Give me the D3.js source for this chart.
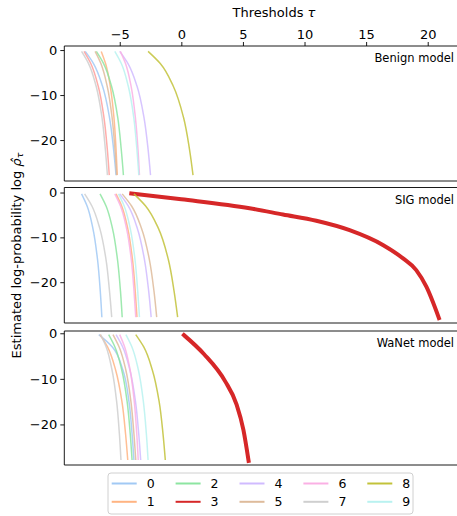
<!DOCTYPE html>
<html>
<head>
<meta charset="utf-8">
<script src="https://cdn.jsdelivr.net/npm/d3@7"></script>
<style>
  html, body { margin: 0; padding: 0; background: #fff; }
  svg { display: block; font-family: "DejaVu Sans", sans-serif; }
</style>
</head>
<body>
<svg id="chart" width="457" height="516"></svg>
<script>
// ---------------- data ----------------
const classes = ["0", "1", "2", "3", "4", "5", "6", "7", "8", "9"];
const classColors = ["#a1c9f4", "#ffb482", "#8de5a1", "#ff9f9b", "#d0bbff",
                     "#debb9b", "#fab0e4", "#cfcfcf", "#c2c23a", "#b9f2f0"];
const targetColor = "#d62728";
const targetClass = 3;
const panelNames = ["Benign model", "SIG model", "WaNet model"];

// log-probability levels at which each class curve's threshold was read
const levels = [-0.3, -3, -8, -15, -22, -27.8];

// thresholds tau per class at the levels above
const benignTau = [
  [-7.8, -7.13, -6.4, -5.83, -5.5, -5.3],
  [-6.5, -6.15, -5.77, -5.47, -5.3, -5.2],
  [-6.9, -6.31, -5.67, -5.16, -4.88, -4.7],
  [-7.9, -7.35, -6.75, -6.28, -6.01, -5.85],
  [-5.0, -4.33, -3.6, -3.03, -2.7, -2.5],
  [-7.0, -6.53, -6.02, -5.62, -5.39, -5.25],
  [-4.95, -4.53, -4.08, -3.73, -3.52, -3.4],
  [-8.1, -7.53, -6.92, -6.44, -6.17, -6.0],
  [-2.7, -1.71, -0.66, 0.18, 0.66, 0.95],
  [-5.4, -4.87, -4.31, -3.86, -3.61, -3.45]
];
const sigTau = [
  [-8.1, -7.65, -7.18, -6.8, -6.58, -6.45],
  [-5.3, -4.84, -4.35, -3.96, -3.74, -3.6],
  [-6.6, -6.11, -5.59, -5.18, -4.94, -4.8],
  null,
  [-5.0, -4.31, -3.57, -2.99, -2.65, -2.45],
  [-4.8, -4.04, -3.23, -2.59, -2.22, -2.0],
  [-5.4, -4.94, -4.45, -4.06, -3.84, -3.7],
  [-7.85, -7.26, -6.62, -6.11, -5.83, -5.65],
  [-3.85, -2.9, -1.86, -1.05, -0.59, -0.3],
  [-5.1, -4.64, -4.15, -3.76, -3.54, -3.4]
];
const wanetTau = [
  [-6.7, -5.6, -4.75, -4.25, -4.0, -3.85],
  [-6.6, -5.99, -5.34, -4.82, -4.53, -4.35],
  [-5.9, -5.39, -4.84, -4.4, -4.15, -4.0],
  null,
  [-5.3, -4.76, -4.18, -3.72, -3.46, -3.3],
  [-5.55, -5.05, -4.51, -4.09, -3.85, -3.7],
  [-5.0, -4.6, -4.16, -3.82, -3.62, -3.5],
  [-6.55, -6.1, -5.63, -5.25, -5.03, -4.9],
  [-3.7, -3.05, -2.36, -1.8, -1.49, -1.3],
  [-4.5, -4.01, -3.49, -3.08, -2.84, -2.7]
];

// target class (3) curves for the backdoored models
const sigRedTau  = [-4.06, 0, 5.54, 8.25, 10.96, 13.66, 16.36, 18.0, 19.07, 19.89, 20.91];
const sigRedLogp = [-0.2, -1.5, -3.5, -4.9, -6.3, -8.4, -11.7, -14.7, -17.3, -21.0, -28.0];
const wanetRedTau  = [0.21, 1.85, 3.55, 4.48, 5.04, 5.46];
const wanetRedLogp = [-0.4, -4.6, -10.5, -15.6, -21.2, -28.0];

const xTicks = [-5, 0, 5, 10, 15, 20];
const yTicks = [0, -10, -20];
const yDomains = [[-29.1, 0.9], [-29.1, 1.12], [-28.9, 0.5]];

// ---------------- layout ----------------
const svg = d3.select("#chart");
const left = 64.3, right = 484;
const panelBox = [[46, 181], [187.5, 323], [331, 465]];
const x = d3.scaleLinear().domain([-9.5, 24.57]).range([left, right]);
const FONT = 13;

const panels = [
  { tau: benignTau, red: null },
  { tau: sigTau, red: { t: sigRedTau, v: sigRedLogp } },
  { tau: wanetTau, red: { t: wanetRedTau, v: wanetRedLogp } }
];

svg.append("defs").append("clipPath").attr("id", "clipAll")
  .append("rect").attr("x", left).attr("y", 0).attr("width", right - left).attr("height", 516);

panels.forEach((p, pi) => {
  const [top, bot] = panelBox[pi];
  const y = d3.scaleLinear().domain(yDomains[pi]).range([bot, top]);
  const g = svg.append("g");
  const plot = g.append("g").attr("clip-path", "url(#clipAll)");

  const line = d3.line().x(d => x(d[0])).y(d => y(d[1])).curve(d3.curveMonotoneY);
  const lineX = d3.line().x(d => x(d[0])).y(d => y(d[1])).curve(d3.curveMonotoneX);

  classes.forEach((c, ci) => {
    if (ci === targetClass && p.red) {
      const pts = p.red.t.map((t, k) => [t, p.red.v[k]]);
      plot.append("path").attr("d", lineX(pts))
        .attr("fill", "none").attr("stroke", targetColor)
        .attr("stroke-width", 4).attr("stroke-linecap", "square");
      return;
    }
    const arr = p.tau[ci];
    if (!arr) return;
    const pts = arr.map((t, k) => [t, levels[k]]);
    plot.append("path").attr("d", line(pts))
      .attr("fill", "none").attr("stroke", classColors[ci])
      .attr("stroke-opacity", ci === 8 ? 0.85 : 0.85)
      .attr("stroke-width", 1.5);
  });

  // y axis
  const ya = g.append("g").attr("transform", `translate(${left},0)`)
    .call(d3.axisLeft(y).tickValues(yTicks).tickSize(4).tickPadding(3)
      .tickFormat(d => d < 0 ? "\u2212" + Math.abs(d) : String(d)));
  ya.select(".domain").remove();
  ya.selectAll("line").attr("stroke", "#000").attr("stroke-width", 0.9);
  ya.selectAll("text").attr("font-size", FONT).attr("fill", "#000")
    .attr("font-family", "DejaVu Sans");

  // spines
  g.append("line").attr("x1", left).attr("x2", right).attr("y1", top).attr("y2", top)
    .attr("stroke", "#000").attr("stroke-width", 0.9);
  g.append("line").attr("x1", left).attr("x2", right).attr("y1", bot).attr("y2", bot)
    .attr("stroke", "#000").attr("stroke-width", 0.9);
  g.append("line").attr("x1", left).attr("x2", left).attr("y1", top).attr("y2", bot)
    .attr("stroke", "#000").attr("stroke-width", 0.9);

  // panel title
  g.append("text").attr("x", 454).attr("y", top + 12)
    .attr("text-anchor", "end").attr("dominant-baseline", "central")
    .attr("font-size", 11.5).attr("fill", "#000").text(panelNames[pi]);

  if (pi === 0) {
    const xa = g.append("g").attr("transform", `translate(0,${top})`)
      .call(d3.axisTop(x).tickValues(xTicks).tickSize(4).tickPadding(3)
        .tickFormat(d => d < 0 ? "\u2212" + Math.abs(d) : String(d)));
    xa.select(".domain").remove();
    xa.selectAll("line").attr("stroke", "#000").attr("stroke-width", 0.9);
    xa.selectAll("text").attr("font-size", FONT).attr("fill", "#000")
      .attr("font-family", "DejaVu Sans");
    const lab = svg.append("text").attr("x", 274).attr("y", 12)
      .attr("text-anchor", "middle").attr("dominant-baseline", "central")
      .attr("font-size", FONT).attr("fill", "#000");
    lab.append("tspan").text("Thresholds ");
    lab.append("tspan").attr("font-style", "italic").text("\u03c4");
  }
});

// y label
const yl = svg.append("text")
  .attr("transform", "translate(16,255.5) rotate(-90)")
  .attr("text-anchor", "middle").attr("dominant-baseline", "central")
  .attr("font-size", FONT).attr("fill", "#000");
yl.append("tspan").text("Estimated log-probability log ");
yl.append("tspan").attr("font-style", "italic").text("\u03c1\u0302");
yl.append("tspan").attr("font-style", "italic").attr("font-size", 9.5).attr("dy", 3).text("\u03c4");

// legend
const lg = svg.append("g");
lg.append("rect").attr("x", 108).attr("y", 473).attr("width", 305).attr("height", 41)
  .attr("rx", 3).attr("fill", "#fff").attr("stroke", "#d0d0d0").attr("stroke-width", 1);
classes.forEach((c, ci) => {
  const col = Math.floor(ci / 2), row = ci % 2;
  const lx = 111.7 + col * 63.9, ly = 483.5 + row * 18.3;
  lg.append("line").attr("x1", lx).attr("x2", lx + 25).attr("y1", ly).attr("y2", ly)
    .attr("stroke", ci === targetClass ? targetColor : classColors[ci])
    .attr("stroke-width", 2);
  lg.append("text").attr("x", lx + 35).attr("y", ly)
    .attr("dominant-baseline", "central").attr("font-size", 12.5).attr("fill", "#000")
    .text(c);
});
</script>
</body>
</html>
